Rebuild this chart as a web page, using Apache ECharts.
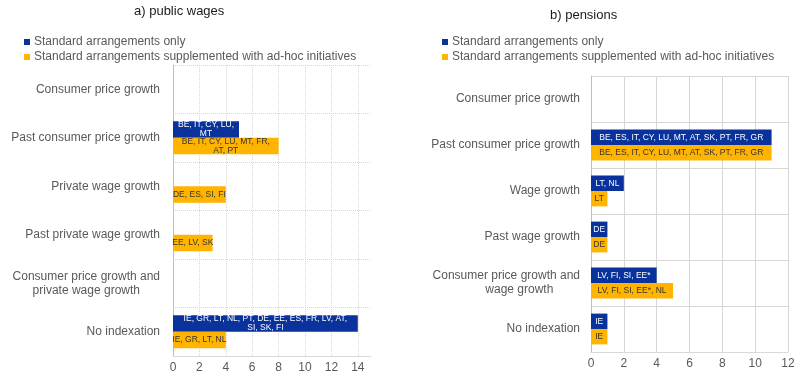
<!DOCTYPE html>
<html>
<head>
<meta charset="utf-8">
<script src="https://cdn.jsdelivr.net/npm/echarts@6/dist/echarts.min.js"></script>
<style>
  html, body { margin: 0; padding: 0; background: #fff; }
  #main { width: 800px; height: 376px; }
</style>
</head>
<body>
<div id="main"></div>
<script>
// a) public wages
const wageCategories = [
  'Consumer price growth',
  'Past consumer price growth',
  'Private wage growth',
  'Past private wage growth',
  'Consumer price growth and\nprivate wage growth      ',
  'No indexation'
];
const wageStandard = [0, 5, 0, 0, 0, 14];
const wageAdhoc = [0, 8, 4, 3, 0, 4];
const wageStandardLabels = ['', 'BE, IT, CY, LU,\nMT', '', '', '', 'IE, GR, LT, NL, PT, DE, EE, ES, FR, LV, AT,\nSI, SK, FI'];
const wageAdhocLabels = ['', 'BE, IT, CY, LU, MT, FR,\nAT, PT', 'DE, ES, SI, FI', 'EE, LV, SK', '', 'IE, GR, LT, NL'];

// b) pensions
const pensionCategories = [
  'Consumer price growth',
  'Past consumer price growth',
  'Wage growth',
  'Past wage growth',
  'Consumer price growth and\nwage growth        ',
  'No indexation'
];
const pensionStandard = [0, 11, 2, 1, 4, 1];
const pensionAdhoc = [0, 11, 1, 1, 5, 1];
const pensionStandardLabels = ['', 'BE, ES, IT, CY, LU, MT, AT, SK, PT, FR, GR', 'LT, NL', 'DE', 'LV, FI, SI, EE*', 'IE'];
const pensionAdhocLabels = ['', 'BE, ES, IT, CY, LU, MT, AT, SK, PT, FR, GR', 'LT', 'DE', 'LV, FI, SI, EE*, NL', 'IE'];

const seriesNames = ['Standard arrangements only', 'Standard arrangements supplemented with ad-hoc initiatives'];
const BLUE = '#0a329c';
const ORANGE = '#ffb400';
const FONT = 'Liberation Sans, Arial, sans-serif';

const chart = echarts.init(document.getElementById('main'), null, { renderer: 'canvas' });

function barSeries(name, data, labels, color, textColor, idx, gap) {
  return {
    name: name,
    type: 'bar',
    xAxisIndex: idx,
    yAxisIndex: idx,
    data: data,
    barGap: '0%',
    barCategoryGap: gap,
    itemStyle: { color: color },
    label: {
      show: true,
      position: 'inside',
      fontFamily: FONT,
      fontSize: 8.5,
      lineHeight: 9,
      color: textColor,
      align: 'center',
      formatter: (p) => labels[p.dataIndex]
    },
    emphasis: { disabled: true }
  };
}

function legend(left) {
  return {
    data: seriesNames,
    orient: 'vertical',
    left: left,
    top: 36,
    itemWidth: 6,
    itemHeight: 6,
    itemGap: 3,
    padding: 0,
    icon: 'rect',
    textStyle: { fontFamily: FONT, fontSize: 12, color: '#595959', padding: [0, 0, 0, -1] },
    selectedMode: false
  };
}

function valueAxis(idx, max, lineType) {
  return {
    type: 'value',
    gridIndex: idx,
    min: 0,
    max: max,
    interval: 2,
    axisLine: { show: true, lineStyle: { color: '#d9d9d9' } },
    axisTick: { show: false },
    axisLabel: { fontFamily: FONT, fontSize: 12, color: '#595959', margin: 6, showMaxLabel: max % 2 === 0 },
    splitLine: { show: true, showMaxLine: max % 2 === 0, lineStyle: { color: '#d6d6d6', type: lineType } }
  };
}

function categoryAxis(idx, cats, margin, lineType) {
  return {
    type: 'category',
    gridIndex: idx,
    data: cats,
    inverse: true,
    axisLine: { show: true, lineStyle: { color: '#bfbfbf' } },
    axisTick: { show: false },
    axisLabel: { fontFamily: FONT, fontSize: 12, color: '#595959', margin: margin, lineHeight: 14 },
    splitLine: { show: true, lineStyle: { color: '#d6d6d6', type: lineType } }
  };
}

const option = {
  animation: false,
  backgroundColor: '#fff',
  title: [
    { text: 'a) public wages', left: 134, top: 5, padding: 0,
      textStyle: { fontFamily: FONT, fontSize: 13, fontWeight: 'normal', color: '#1a1a1a' } },
    { text: 'b) pensions', left: 550, top: 9, padding: 0,
      textStyle: { fontFamily: FONT, fontSize: 13, fontWeight: 'normal', color: '#1a1a1a' } }
  ],
  legend: [legend(24), legend(442)],
  grid: [
    { left: 173, right: 429, top: 65, bottom: 20 },
    { left: 591, right: 12, top: 76, bottom: 24 }
  ],
  xAxis: [valueAxis(0, 15, 'dotted'), valueAxis(1, 12, 'solid')],
  yAxis: [categoryAxis(0, wageCategories, 13, 'dotted'), categoryAxis(1, pensionCategories, 11, 'solid')],
  series: [
    barSeries(seriesNames[0], wageStandard, wageStandardLabels, BLUE, '#ffffff', 0, '32%'),
    barSeries(seriesNames[1], wageAdhoc, wageAdhocLabels, ORANGE, '#333333', 0, '32%'),
    barSeries(seriesNames[0], pensionStandard, pensionStandardLabels, BLUE, '#ffffff', 1, '33%'),
    barSeries(seriesNames[1], pensionAdhoc, pensionAdhocLabels, ORANGE, '#333333', 1, '33%')
  ]
};

chart.setOption(option);
</script>
</body>
</html>
